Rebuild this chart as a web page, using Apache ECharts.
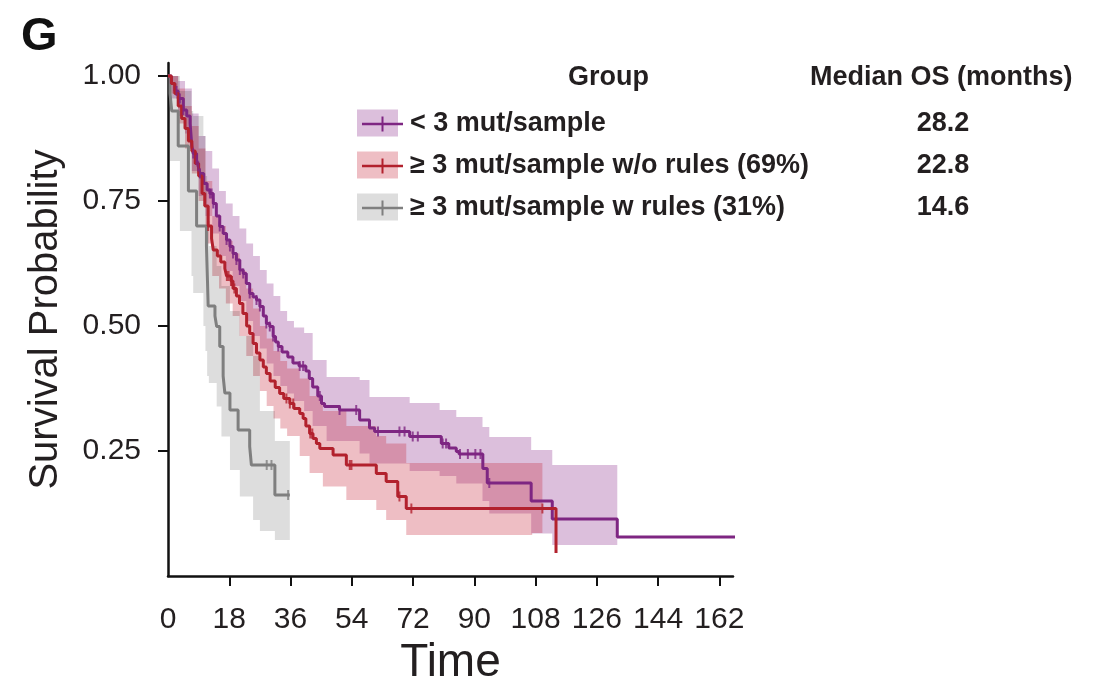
<!DOCTYPE html>
<html>
<head>
<meta charset="utf-8">
<title>Survival Probability</title>
<script src="https://cdn.jsdelivr.net/npm/echarts@6/dist/echarts.min.js"></script>
<style>
    html, body { margin: 0; padding: 0; background: #fff; }
    #chart { width: 1104px; height: 695px; }
</style>
</head>
<body>
<div id="chart"></div>
<script>
var groupNames = ['< 3 mut/sample', '≥ 3 mut/sample w/o rules (69%)', '≥ 3 mut/sample w rules (31%)'];
var medianOS = ['28.2', '22.8', '14.6'];
var xTickValues = [0, 18, 36, 54, 72, 90, 108, 126, 144, 162];
var yTickValues = [0.25, 0.5, 0.75, 1.0];

// < 3 mut/sample
var lowTime = [0, 1, 2, 3, 4.5, 5.5, 6.5, 7, 7.4, 8.4, 8.9, 9.4, 10.5, 11.5, 12.3, 13.3, 14.2, 15.2, 16.2, 17.2, 18.2, 19.1, 20.1, 21.1, 22.1, 23, 24, 25, 26, 27, 28, 28.9, 29.9, 30.9, 31.6, 32.4, 33.5, 35.2, 36.7, 38.5, 40.5, 41.5, 42.5, 44, 45.1, 46, 50.4, 56.3, 59.2, 60.7, 71, 80.3, 82.5, 84.7, 85.5, 92.5, 93.8, 106.7, 112.9, 132, 167.5];
var lowSurv = [1, 0.985, 0.97, 0.955, 0.932, 0.92, 0.905, 0.86, 0.845, 0.832, 0.819, 0.805, 0.785, 0.772, 0.765, 0.745, 0.72, 0.699, 0.685, 0.672, 0.659, 0.645, 0.632, 0.612, 0.605, 0.585, 0.565, 0.558, 0.552, 0.539, 0.52, 0.505, 0.499, 0.479, 0.468, 0.459, 0.448, 0.438, 0.426, 0.42, 0.41, 0.395, 0.378, 0.36, 0.345, 0.339, 0.332, 0.312, 0.296, 0.289, 0.279, 0.265, 0.256, 0.249, 0.244, 0.215, 0.186, 0.15, 0.114, 0.078, 0.078];
var lowBandTime = [0, 1, 3, 5, 7, 9, 11, 13, 15, 17, 19, 21, 23, 25, 27, 29, 31, 33, 35, 37, 40, 42.5, 46.6, 56.3, 59.2, 71, 79.8, 84.7, 92.4, 94.4, 106.7, 112.9, 132];
var lowBandLo = [1, 0.955, 0.92, 0.885, 0.81, 0.76, 0.72, 0.685, 0.64, 0.61, 0.58, 0.55, 0.51, 0.48, 0.455, 0.425, 0.40, 0.38, 0.365, 0.35, 0.33, 0.30, 0.27, 0.245, 0.225, 0.21, 0.2, 0.185, 0.15, 0.125, 0.085, 0.062, 0.062];
var lowBandHi = [1, 1, 0.99, 0.975, 0.925, 0.88, 0.85, 0.815, 0.77, 0.745, 0.72, 0.695, 0.665, 0.64, 0.612, 0.585, 0.56, 0.53, 0.51, 0.497, 0.486, 0.432, 0.398, 0.392, 0.358, 0.346, 0.332, 0.318, 0.298, 0.278, 0.252, 0.222, 0.222];
var lowCensor = [[2.5, 0.97], [3.5, 0.955], [4.5, 0.932], [6.5, 0.905], [7.4, 0.845], [8.4, 0.832], [8.9, 0.819], [9.4, 0.805], [12.3, 0.765], [12.8, 0.765], [13.3, 0.745], [15.2, 0.699], [17.2, 0.672], [18.2, 0.659], [19.1, 0.645], [20.1, 0.632], [21.1, 0.612], [22.1, 0.605], [24, 0.565], [26, 0.552], [27, 0.539], [28.9, 0.505], [29.9, 0.499], [30.9, 0.479], [32.4, 0.459], [38.7, 0.42], [39.7, 0.42], [44.6, 0.36], [50.4, 0.332], [55.3, 0.332], [61.7, 0.289], [68, 0.289], [69.5, 0.289], [71.9, 0.279], [73.4, 0.279], [80.7, 0.265], [81.7, 0.265], [85.8, 0.244], [88.1, 0.244], [90.3, 0.244], [91.8, 0.244], [94.4, 0.186]];

// >= 3 mut/sample w/o rules
var noRulesTime = [0, 1, 2, 3, 4, 5, 6, 7, 8, 9, 10, 10.8, 11.8, 12.8, 13.3, 14.5, 15.5, 16.7, 17.2, 18.5, 19.1, 20.1, 21, 22, 23.1, 24, 25, 26, 27, 28, 28.9, 30, 31.5, 32.8, 34, 35.8, 37, 38.7, 39.7, 40.5, 41.6, 42.6, 43.6, 44.6, 48.5, 52.4, 61.2, 64.1, 67.5, 70, 114];
var noRulesSurv = [1, 0.985, 0.965, 0.94, 0.915, 0.895, 0.87, 0.85, 0.825, 0.8, 0.765, 0.74, 0.7, 0.675, 0.652, 0.64, 0.628, 0.615, 0.6, 0.59, 0.575, 0.56, 0.545, 0.525, 0.5, 0.485, 0.465, 0.446, 0.432, 0.418, 0.405, 0.39, 0.377, 0.365, 0.355, 0.345, 0.335, 0.325, 0.315, 0.3, 0.285, 0.275, 0.265, 0.255, 0.242, 0.222, 0.205, 0.189, 0.159, 0.135, 0.046];
var noRulesBandTime = [0, 1, 3, 5, 7, 9, 11, 13, 15, 17, 19, 21, 23, 25, 27, 29, 31, 33, 35, 38.7, 41.6, 45.5, 52.4, 61.2, 64.1, 70, 107, 110];
var noRulesBandLo = [1, 0.965, 0.905, 0.855, 0.805, 0.75, 0.665, 0.60, 0.575, 0.545, 0.52, 0.48, 0.44, 0.40, 0.37, 0.34, 0.315, 0.295, 0.28, 0.24, 0.206, 0.179, 0.152, 0.132, 0.112, 0.082, 0.086, 0.086];
var noRulesBandHi = [1, 1, 0.975, 0.94, 0.9, 0.855, 0.79, 0.72, 0.70, 0.67, 0.645, 0.61, 0.575, 0.535, 0.50, 0.475, 0.45, 0.43, 0.415, 0.395, 0.36, 0.33, 0.30, 0.28, 0.265, 0.226, 0.226, 0.226];
var noRulesCensor = [[11.8, 0.7], [17.3, 0.6], [17.8, 0.6], [18.5, 0.59], [18.8, 0.59], [19.5, 0.575], [34.8, 0.355], [35.8, 0.345], [36.8, 0.345], [41.8, 0.285], [42.4, 0.285], [53.4, 0.222], [53.9, 0.222], [68, 0.159], [71.5, 0.135], [110, 0.135]];

// >= 3 mut/sample w rules
var rulesTime = [0, 0.6, 1.1, 3, 6, 8.4, 11.3, 11.6, 11.8, 13.8, 14.3, 15.2, 16.2, 16.7, 18.2, 20.6, 24, 24.5, 31.4, 35.8];
var rulesSurv = [1, 0.965, 0.93, 0.86, 0.77, 0.70, 0.659, 0.59, 0.54, 0.52, 0.499, 0.459, 0.40, 0.366, 0.332, 0.292, 0.259, 0.222, 0.162, 0.162];
var rulesBandTime = [0, 0.5, 3.5, 6.9, 7.4, 10.4, 11, 11.5, 12, 14.3, 15.7, 18.2, 21.1, 25, 27, 31.4, 35.8];
var rulesBandLo = [1, 0.83, 0.69, 0.6, 0.566, 0.5, 0.45, 0.40, 0.386, 0.339, 0.279, 0.212, 0.159, 0.112, 0.09, 0.072, 0.072];
var rulesBandHi = [1, 1, 0.97, 0.93, 0.92, 0.88, 0.80, 0.73, 0.66, 0.62, 0.58, 0.53, 0.48, 0.44, 0.33, 0.27, 0.25];
var rulesCensor = [[29, 0.222], [30.4, 0.222], [35.3, 0.162]];

var lineColors = ['#7e2682', '#b2212d', '#7f7f7f'];
var bandColors = ['rgba(150, 60, 150, 0.33)', 'rgba(200, 40, 60, 0.3)', 'rgba(0, 0, 0, 0.135)'];

var axisFont = "'Liberation Sans', Arial, sans-serif";
var boldFont = "'Liberation Sans', Arial, sans-serif";

function pairs(xs, ys) {
    var out = [];
    for (var i = 0; i < xs.length; i++) {
        out.push([xs[i], ys[i]]);
    }
    return out;
}

// step shaped confidence band: upper edge forward, lower edge back
function bandSeries(color, bt, lo, hi) {
    return {
        type: 'custom',
        silent: true,
        z: 1,
        data: [[bt[0], hi[0]]],
        renderItem: function (params, api) {
            var pts = [];
            for (var i = 0; i < bt.length - 1; i++) {
                pts.push(api.coord([bt[i], hi[i]]));
                pts.push(api.coord([bt[i + 1], hi[i]]));
            }
            for (var j = bt.length - 2; j >= 0; j--) {
                pts.push(api.coord([bt[j + 1], lo[j]]));
                pts.push(api.coord([bt[j], lo[j]]));
            }
            return {
                type: 'polygon',
                shape: { points: pts },
                style: { fill: color }
            };
        }
    };
}

function curveSeries(name, color, t, s) {
    return {
        name: name,
        type: 'line',
        step: 'end',
        data: pairs(t, s),
        symbol: 'none',
        clip: false,
        lineStyle: { width: 3, color: color },
        itemStyle: { color: color },
        z: 3
    };
}

function censorSeries(color, data) {
    return {
        type: 'scatter',
        data: data,
        symbol: 'rect',
        symbolSize: [2, 10],
        itemStyle: { color: color },
        silent: true,
        z: 4
    };
}

var series = [
    bandSeries(bandColors[0], lowBandTime, lowBandLo, lowBandHi),
    bandSeries(bandColors[1], noRulesBandTime, noRulesBandLo, noRulesBandHi),
    bandSeries(bandColors[2], rulesBandTime, rulesBandLo, rulesBandHi),
    curveSeries(groupNames[2], lineColors[2], rulesTime, rulesSurv),
    curveSeries(groupNames[0], lineColors[0], lowTime, lowSurv),
    curveSeries(groupNames[1], lineColors[1], noRulesTime, noRulesSurv),
    censorSeries(lineColors[2], rulesCensor),
    censorSeries(lineColors[0], lowCensor),
    censorSeries(lineColors[1], noRulesCensor)
];

var legendBoxes = [];
for (var i = 0; i < 3; i++) {
    legendBoxes.push({
        type: 'rect',
        left: 357,
        top: 109.5 + i * 42,
        shape: { width: 41, height: 27 },
        style: { fill: bandColors[i] },
        z: 0
    });
}

var option = {
    animation: false,
    backgroundColor: '#fff',
    title: {
        text: 'G',
        left: 16,
        top: 9,
        textStyle: { fontFamily: boldFont, fontSize: 47, fontWeight: 'bold', color: '#111' }
    },
    grid: { left: 168, right: 371, top: 63, bottom: 119 },
    legend: {
        left: 357,
        top: 104,
        orient: 'vertical',
        selectedMode: false,
        itemWidth: 41,
        itemHeight: 15,
        itemGap: 12,
        icon: 'path://M0,6.25h41v2.5h-41z M19.5,0h2v15h-2z',
        data: groupNames,
        formatter: function (name) {
            return '{n|' + name + '}{m|' + medianOS[groupNames.indexOf(name)] + '}';
        },
        textStyle: {
            fontFamily: boldFont,
            fontSize: 27,
            fontWeight: 'bold',
            color: '#231f20',
            lineHeight: 30,
            rich: {
                n: { width: 483, padding: [0, 0, 0, 2], fontFamily: boldFont, fontSize: 27, fontWeight: 'bold', color: '#231f20' },
                m: { width: 100, align: 'center', fontFamily: boldFont, fontSize: 27, fontWeight: 'bold', color: '#231f20' }
            }
        }
    },
    graphic: legendBoxes.concat([{
        type: 'text',
        left: 568,
        top: 64,
        style: { text: 'Group', font: 'bold 27px ' + boldFont, fill: '#231f20' }
    }, {
        type: 'text',
        left: 810,
        top: 64,
        style: { text: 'Median OS (months)', font: 'bold 27px ' + boldFont, fill: '#231f20' }
    }]),
    xAxis: {
        type: 'value',
        min: 0,
        max: 166,
        interval: 18,
        name: 'Time',
        nameLocation: 'middle',
        nameGap: 58,
        nameTextStyle: { fontFamily: axisFont, fontSize: 46, color: '#231f20' },
        splitLine: { show: false },
        axisLine: { lineStyle: { color: '#111', width: 2.5 } },
        axisTick: { length: 10, customValues: xTickValues.slice(1), lineStyle: { color: '#111', width: 2 } },
        axisLabel: {
            customValues: xTickValues,
            margin: 29,
            fontFamily: axisFont,
            fontSize: 30,
            color: '#231f20'
        }
    },
    yAxis: {
        type: 'value',
        min: 0,
        max: 1.026,
        interval: 0.25,
        name: 'Survival Probability',
        nameLocation: 'middle',
        nameGap: 102,
        nameTextStyle: { fontFamily: axisFont, fontSize: 40, color: '#231f20' },
        splitLine: { show: false },
        axisLine: { lineStyle: { color: '#111', width: 2.5 } },
        axisTick: { length: 10, customValues: yTickValues, lineStyle: { color: '#111', width: 2 } },
        axisLabel: {
            customValues: yTickValues,
            margin: 27,
            fontFamily: axisFont,
            fontSize: 30,
            color: '#231f20',
            formatter: function (v) {
                return v === 0 ? '' : v.toFixed(2);
            }
        }
    },
    series: series
};

var myChart = echarts.init(document.getElementById('chart'));
myChart.setOption(option);
</script>
</body>
</html>
